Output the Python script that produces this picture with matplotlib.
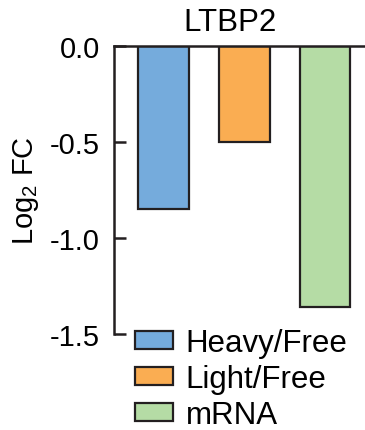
import matplotlib
matplotlib.use("Agg")
import matplotlib.pyplot as plt
from matplotlib.patches import Patch

plt.rcParams['font.family'] = ['Liberation Sans', 'DejaVu Sans']
plt.rcParams['mathtext.default'] = 'regular'

title = "LTBP2"
categories = ["Heavy/Free", "Light/Free", "mRNA"]
values = [-0.85, -0.50, -1.36]
colors = ["#75ABDC", "#FAAD52", "#B5DCA5"]
yticks = [0.0, -0.5, -1.0, -1.5]
ytick_labels = ["0.0", "-0.5", "-1.0", "-1.5"]

W, H = 365, 431
fig = plt.figure(figsize=(W / 100, H / 100), dpi=100)
ax_w = 1 - 114 / W + 0.01
ax = fig.add_axes([114 / W, 1 - 335 / H, ax_w, (335 - 47) / H])

edge = "#231F20"
x = list(range(len(categories)))
ax.bar(x, values, width=0.63, color=colors, edgecolor=edge, linewidth=1.6)
ax.set_xlim(-0.61, 2.54)
ax.set_ylim(-1.5, 0.0)

for s in ["bottom", "right"]:
    ax.spines[s].set_visible(False)
for s in ["left", "top"]:
    ax.spines[s].set_linewidth(1.8)
    ax.spines[s].set_color(edge)

ax.set_yticks(yticks)
ax.set_yticklabels(ytick_labels, fontsize=21)
ax.tick_params(axis='y', direction='in', length=8.5, width=1.8, color=edge, pad=10)
ax.set_xticks([])
ax.set_ylabel("Log$_2$ FC", fontsize=21)
ax.yaxis.set_label_coords((41 - 114) / (ax_w * W), (335 - 191) / (335 - 47))

fig.text(230 / W, 1 - 23 / H, title, fontsize=22.5, ha='center', va='center')

handles = [Patch(facecolor=c, edgecolor=edge, linewidth=1.6) for c in colors]
fig.legend(handles, categories, loc='upper left',
           bbox_to_anchor=(135 / W, 1 - 329 / H), bbox_transform=fig.transFigure,
           frameon=False, fontsize=22.5, borderpad=0, borderaxespad=0,
           handlelength=1.2, handleheight=0.54, handletextpad=0.42,
           labelspacing=0.19)

fig.savefig("out.png", dpi=100)
